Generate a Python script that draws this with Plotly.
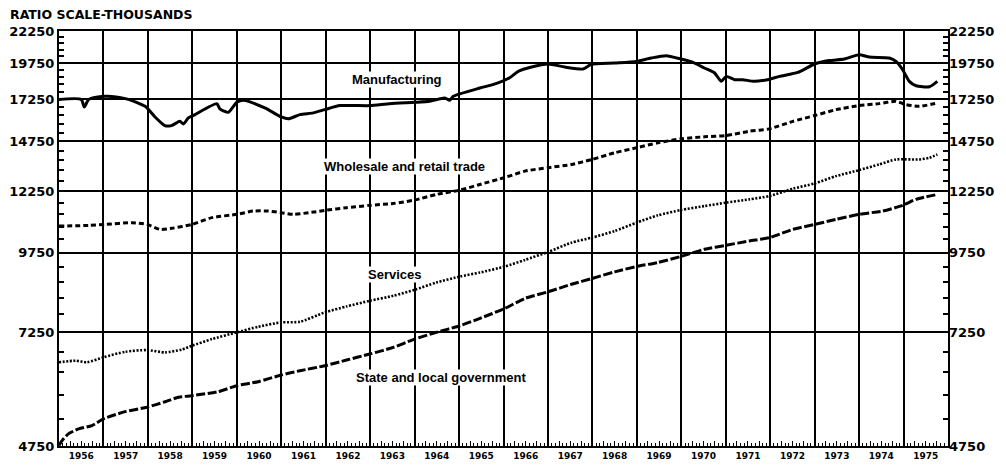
import numpy as np
import plotly.graph_objects as go

# ---------------- data ----------------
years = list(range(1956, 1976))
year_labels = [str(y) for y in years]
y_ticks = [4750, 7250, 9750, 12250, 14750, 17250, 19750, 22250]

mfg_t = [1956.0, 1956.5, 1956.57, 1956.67, 1957.0, 1957.1, 1957.56, 1957.94, 1958.16, 1958.38,
         1958.53, 1958.72, 1958.80, 1958.91, 1959.06, 1959.55, 1959.62, 1959.81, 1960.0, 1960.15,
         1960.63, 1961.0, 1961.16, 1961.42, 1961.72, 1961.98, 1962.32, 1962.99, 1963.44, 1964.0,
         1964.34, 1964.68, 1964.79, 1964.87, 1965.47, 1965.76, 1966.14, 1966.33, 1966.63, 1967.0,
         1967.38, 1967.79, 1967.97, 1968.5, 1968.99, 1969.32, 1969.66, 1969.99, 1970.26, 1970.52,
         1970.75, 1970.90, 1971.01, 1971.2, 1971.38, 1971.64, 1971.94, 1972.21, 1972.62, 1973.0,
         1973.33, 1973.67, 1974.0, 1974.23, 1974.68, 1974.83, 1974.98, 1975.13, 1975.28, 1975.58,
         1975.76]
mfg_v = [17250, 17250, 16774, 17250, 17449, 17449, 17250, 16810, 16160, 15648,
         15648, 15897, 15740, 16102, 16301, 16981, 16652, 16440, 17064, 17192,
         16710, 16160, 16045, 16301, 16405, 16606, 16857, 16857, 16981, 17064,
         17128, 17341, 17192, 17449, 17998, 18224, 18700, 19143, 19460, 19680,
         19460, 19314, 19640, 19750, 19870, 20120, 20293, 20047, 19800, 19387,
         19031, 18447, 18792, 18563, 18563, 18447, 18563, 18792, 19072, 19680,
         19930, 20047, 20368, 20190, 20120, 19870, 19263, 18447, 18150, 18080,
         18447]

trade_t = [1956.0, 1956.67, 1957.04, 1957.64, 1957.98, 1958.27, 1958.54, 1958.99, 1959.44, 1960.0,
           1960.37, 1960.71, 1961.0, 1961.27, 1961.72, 1961.98, 1962.47, 1962.99, 1963.52, 1964.0,
           1964.49, 1965.02, 1965.47, 1966.03, 1966.48, 1967.0, 1967.53, 1967.99, 1968.5, 1968.99,
           1969.47, 1969.99, 1970.52, 1971.01, 1971.53, 1971.98, 1972.51, 1973.0, 1973.48, 1974.0,
           1974.45, 1974.83, 1975.05, 1975.35, 1975.76]
trade_v = [10766, 10794, 10834, 10903, 10834, 10636, 10679, 10834, 11110, 11248,
           11386, 11386, 11317, 11248, 11341, 11415, 11530, 11629, 11714, 11860,
           12113, 12308, 12571, 12900, 13209, 13379, 13540, 13795, 14143, 14408,
           14675, 14897, 15008, 15081, 15322, 15460, 15897, 16243, 16606, 16857,
           16981, 17128, 16920, 16810, 17020]

serv_t = [1956.0, 1956.37, 1956.63, 1957.0, 1957.49, 1957.98, 1958.39, 1958.76, 1958.99, 1959.44,
          1960.0, 1960.48, 1961.0, 1961.42, 1961.98, 1962.47, 1962.99, 1963.52, 1964.0, 1964.49,
          1965.02, 1965.47, 1966.03, 1966.48, 1967.0, 1967.53, 1967.99, 1968.5, 1968.99, 1969.47,
          1969.99, 1970.52, 1971.01, 1971.53, 1971.98, 1972.51, 1973.0, 1973.48, 1974.0, 1974.45,
          1974.83, 1975.35, 1975.58, 1975.76]
serv_v = [6486, 6524, 6486, 6607, 6745, 6788, 6729, 6800, 6897, 7071,
          7250, 7403, 7524, 7540, 7809, 7984, 8153, 8305, 8493, 8728,
          8925, 9058, 9262, 9492, 9777, 10124, 10314, 10570, 10903, 11206,
          11428, 11599, 11747, 11892, 12038, 12373, 12619, 12966, 13258, 13540,
          13795, 13795, 13883, 14054]

gov_t = [1956.0, 1956.07, 1956.21, 1956.44, 1956.74, 1957.0, 1957.49, 1957.98, 1958.39, 1958.69,
         1958.99, 1959.58, 1960.0, 1960.48, 1961.0, 1961.42, 1961.98, 1962.47, 1962.99, 1963.52,
         1964.0, 1964.49, 1965.02, 1965.47, 1966.03, 1966.48, 1967.0, 1967.53, 1967.99, 1968.5,
         1968.99, 1969.47, 1969.99, 1970.52, 1971.01, 1971.53, 1971.98, 1972.51, 1973.0, 1973.48,
         1974.0, 1974.53, 1974.98, 1975.28, 1975.76]
gov_v = [4760, 4847, 4969, 5062, 5125, 5255, 5398, 5487, 5601, 5696,
         5729, 5814, 5945, 6034, 6186, 6285, 6403, 6541, 6688, 6855,
         7071, 7250, 7431, 7637, 7926, 8226, 8429, 8672, 8858, 9079,
         9262, 9401, 9614, 9877, 10025, 10187, 10314, 10636, 10834, 11038,
         11248, 11386, 11629, 11892, 12113]

# ---------------- figure ----------------
FONT = "DejaVu Sans"
LBL = "Liberation Sans"
yr_range = [np.log10(y_ticks[0]), np.log10(y_ticks[-1])]
x_range = [years[0], years[-1] + 1]
minor_y = [v for v in range(5250, 22250, 500) if v not in y_ticks]

fig = go.Figure()

def add(t, v, dash, width, shape="spline"):
    fig.add_trace(go.Scatter(x=t, y=v, mode="lines", showlegend=False, hoverinfo="skip",
                             line=dict(color="black", width=width, dash=dash, shape=shape, smoothing=0.6)))

add(mfg_t, mfg_v, "solid", 3)
add(trade_t, trade_v, "5px,3px", 3)
add(serv_t, serv_v, "2px,1.6px", 2.6)
add(gov_t, gov_v, "9px,2.5px", 3)

# dummy trace so the right-hand axis and the month tick axis are drawn
fig.add_trace(go.Scatter(x=gov_t, y=gov_v, xaxis="x2", yaxis="y2", mode="lines",
                         line=dict(width=0, color="rgba(0,0,0,0)"), showlegend=False, hoverinfo="skip"))

axis_font = dict(family=FONT, size=13, color="black", weight="bold")

fig.update_layout(
    width=1006, height=468,
    margin=dict(l=59, r=58, t=31, b=22, autoexpand=False),
    paper_bgcolor="white", plot_bgcolor="white",
    xaxis=dict(range=x_range, tickvals=[y + 0.5 for y in years], ticktext=year_labels,
               ticks="", showgrid=False, zeroline=False, automargin=False,
               tickfont=dict(family=FONT, size=9, color="black", weight="bold"),
               showline=True, mirror=True, linecolor="black", linewidth=2,
               minor=dict(tickvals=years[1:], showgrid=True, gridcolor="black", gridwidth=2, ticks="")),
    xaxis2=dict(range=x_range, overlaying="x", anchor="y2", side="bottom", automargin=False,
                tickvals=[y + q / 4 for y in years for q in range(4)], ticks="inside", ticklen=5,
                tickwidth=1.3, tickcolor="black", showticklabels=False, showgrid=False, zeroline=False,
                minor=dict(dtick=1 / 12, tick0=years[0], ticks="inside", ticklen=3, tickwidth=1,
                           tickcolor="black", showgrid=False)),
    yaxis=dict(type="log", range=yr_range, tickvals=y_ticks, ticktext=[str(v) for v in y_ticks],
               ticks="", showgrid=True, gridcolor="black", gridwidth=2, zeroline=False, automargin=False,
               tickfont=axis_font, showline=True, mirror=True, linecolor="black", linewidth=2,
               minor=dict(tickvals=minor_y, ticks="inside", ticklen=5, tickwidth=1.5, tickcolor="black",
                          showgrid=False)),
    yaxis2=dict(type="log", range=yr_range, overlaying="y", side="right", anchor="x2",
                tickvals=y_ticks, ticktext=[str(v) for v in y_ticks], ticks="", showgrid=False,
                zeroline=False, tickfont=axis_font, automargin=False,
                minor=dict(tickvals=minor_y, ticks="inside", ticklen=5, tickwidth=1.5, tickcolor="black",
                           showgrid=False)),
)

ann_font = dict(family=LBL, size=13, color="black", weight="bold")
labels = [("Manufacturing", 1963.61, 18563),
          ("Wholesale and retail trade", 1963.78, 13460),
          ("Services", 1963.55, 8979),
          ("State and local government", 1964.60, 6132)]
for text, ax, ay in labels:
    fig.add_annotation(x=ax, y=np.log10(ay), xref="x", yref="y", text=text, showarrow=False,
                       font=ann_font, bgcolor="white", borderpad=0)

fig.add_annotation(x=-51 / 889, y=1 + 16 / 415, xref="paper", yref="paper", xanchor="left",
                   yanchor="middle", text="RATIO SCALE-THOUSANDS", showarrow=False,
                   font=dict(family=FONT, size=12.5, color="black", weight="bold"))

fig.write_html("out.html", config={"displayModeBar": False},
               post_script="document.body.style.margin='0';document.body.style.overflow='hidden';")
